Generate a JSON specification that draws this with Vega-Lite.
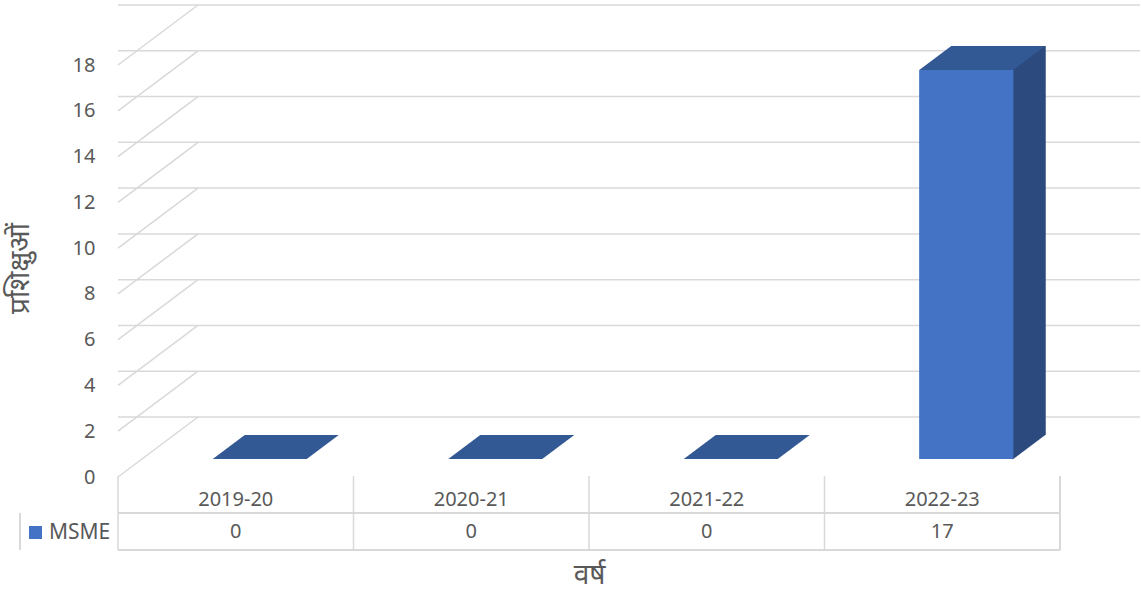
{
  "$schema": "https://vega.github.io/schema/vega-lite/v6.json",
  "background": "white",
  "padding": {"left": 6, "top": 4, "right": 0, "bottom": 20},
  "config": {"view": {"stroke": null}, "font": "Noto Sans"},
  "datasets": {
    "rows": [
      {"year": "2019-20", "series": "MSME", "value": 0},
      {"year": "2020-21", "series": "MSME", "value": 0},
      {"year": "2021-22", "series": "MSME", "value": 0},
      {"year": "2022-23", "series": "MSME", "value": 17}
    ],
    "ticks": [
      {"v": 0}, {"v": 2}, {"v": 4}, {"v": 6}, {"v": 8},
      {"v": 10}, {"v": 12}, {"v": 14}, {"v": 16}, {"v": 18}
    ]
  },
  "bounds": "flush",
  "spacing": 17,
  "vconcat": [
    {
      "width": 942,
      "height": 412,
      "layer": [
        {
          "data": {"name": "ticks"},
          "mark": {"type": "rule", "color": "#D9D9D9", "strokeWidth": 1.5, "xOffset": 80, "x2Offset": 80, "yOffset": -42},
          "encoding": {
            "y": {
              "field": "v", "type": "quantitative",
              "scale": {"domain": [0, 18], "nice": false},
              "axis": {
                "values": [0, 2, 4, 6, 8, 10, 12, 14, 16, 18],
                "labelOffset": 18, "labelPadding": 23, "ticks": false, "tickSize": 0,
                "domain": false, "grid": false,
                "labelFontSize": 20, "labelColor": "#595959", "labelFont": "Noto Sans",
                "title": "प्रशिक्षुओं", "titleFontSize": 28, "titleColor": "#595959",
                "titleFontWeight": "normal", "titleFont": "Noto Sans",
                "titleX": -84, "titleY": 221
              }
            }
          }
        },
        {
          "data": {"name": "ticks"},
          "mark": {"type": "rule", "color": "#D9D9D9", "strokeWidth": 1.5, "x2Offset": 80, "yOffset": 18, "y2Offset": -42},
          "encoding": {
            "x": {"datum": "2019-20", "type": "nominal", "bandPosition": 0, "axis": null},
            "x2": {"datum": "2019-20", "bandPosition": 0},
            "y": {"field": "v", "type": "quantitative", "title": "प्रशिक्षुओं"},
            "y2": {"field": "v"}
          }
        },
        {
          "data": {"name": "rows"},
          "transform": [{"filter": "datum.value > 0"}],
          "mark": {"type": "bar", "width": 33, "xOffset": 87, "yOffset": -24, "y2Offset": -24, "color": "#2C4A7E"},
          "encoding": {
            "x": {"field": "year", "type": "nominal", "scale": {"paddingInner": 0, "paddingOuter": 0}, "axis": null},
            "y": {"field": "value", "type": "quantitative", "title": "प्रशिक्षुओं"}
          }
        },
        {
          "data": {"name": "rows"},
          "transform": [{"filter": "datum.value > 0"}],
          "mark": {"type": "point", "shape": "M0.58,0.005L0.9875,-0.3L0.58,-0.3Z", "size": 25600, "filled": true, "fill": "#2C4A7E", "opacity": 1, "strokeWidth": 0, "xOffset": 24},
          "encoding": {
            "x": {"field": "year", "type": "nominal", "axis": null},
            "y": {"datum": 0, "type": "quantitative", "title": "प्रशिक्षुओं"}
          }
        },
        {
          "data": {"name": "rows"},
          "mark": {"type": "bar", "width": {"band": 0.4}, "xOffset": 24},
          "encoding": {
            "x": {"field": "year", "type": "nominal", "axis": null},
            "y": {"field": "value", "type": "quantitative", "title": "प्रशिक्षुओं"},
            "color": {
              "field": "series", "type": "nominal",
              "scale": {"range": ["#4472C4"]},
              "legend": {
                "orient": "none", "legendX": -93, "legendY": 475, "title": null,
                "symbolType": "square", "symbolSize": 169, "symbolStrokeWidth": 0,
                "labelFontSize": 21, "labelFont": "Noto Sans", "labelColor": "#595959",
                "labelOffset": 3, "padding": 0
              }
            }
          }
        },
        {
          "data": {"name": "rows"},
          "mark": {"type": "point", "shape": "M-0.5875,0L0.5875,0L0.9875,-0.3L-0.1875,-0.3Z", "size": 25600, "filled": true, "fill": "#335995", "opacity": 1, "strokeWidth": 0, "xOffset": 24},
          "encoding": {
            "x": {"field": "year", "type": "nominal", "axis": null},
            "y": {"field": "value", "type": "quantitative", "title": "प्रशिक्षुओं"}
          }
        }
      ]
    },
    {
      "width": 942,
      "height": 74,
      "data": {"name": "rows"},
      "layer": [
        {
          "mark": {"type": "rule", "color": "#D9D9D9", "strokeWidth": 1.5},
          "encoding": {
            "x": {
              "field": "year", "type": "nominal", "bandPosition": 0,
              "scale": {"paddingInner": 0, "paddingOuter": 0},
              "axis": {
                "title": "वर्ष", "labels": false, "ticks": false, "domain": false,
                "titleFontSize": 28, "titleColor": "#595959", "titleFontWeight": "normal",
                "titleFont": "Noto Sans", "titlePadding": 11
              }
            }
          }
        },
        {
          "mark": {"type": "rule", "color": "#D9D9D9", "strokeWidth": 1.5},
          "encoding": {
            "x": {"datum": "2022-23", "type": "nominal", "bandPosition": 1, "title": "वर्ष"}
          }
        },
        {
          "mark": {"type": "rule", "color": "#D9D9D9", "strokeWidth": 1.5, "x2Offset": -98},
          "encoding": {
            "y": {"datum": "v", "type": "nominal", "bandPosition": 0, "scale": {"domain": ["h", "v"], "paddingInner": 0, "paddingOuter": 0}, "axis": null}
          }
        },
        {
          "mark": {"type": "rule", "color": "#D9D9D9", "strokeWidth": 1.5, "x2Offset": -98},
          "encoding": {
            "y": {"datum": "v", "type": "nominal", "bandPosition": 1, "axis": null}
          }
        },
        {
          "mark": {"type": "rule", "color": "#D9D9D9", "strokeWidth": 1.5, "xOffset": -98, "x2Offset": -98},
          "encoding": {
            "x": {"datum": "2019-20", "type": "nominal", "bandPosition": 0, "title": "वर्ष"},
            "y": {"datum": "v", "type": "nominal", "bandPosition": 0, "axis": null},
            "y2": {"datum": "v", "bandPosition": 1}
          }
        },
        {
          "mark": {"type": "text", "fontSize": 20, "color": "#595959", "font": "Noto Sans", "dy": 5},
          "encoding": {
            "x": {"field": "year", "type": "nominal", "title": "वर्ष"},
            "y": {"datum": "h", "type": "nominal", "axis": null},
            "text": {"field": "year", "type": "nominal"}
          }
        },
        {
          "mark": {"type": "text", "fontSize": 20, "color": "#595959", "font": "Noto Sans"},
          "encoding": {
            "x": {"field": "year", "type": "nominal", "title": "वर्ष"},
            "y": {"datum": "v", "type": "nominal", "axis": null},
            "text": {"field": "value", "type": "quantitative"}
          }
        }
      ]
    }
  ]
}
